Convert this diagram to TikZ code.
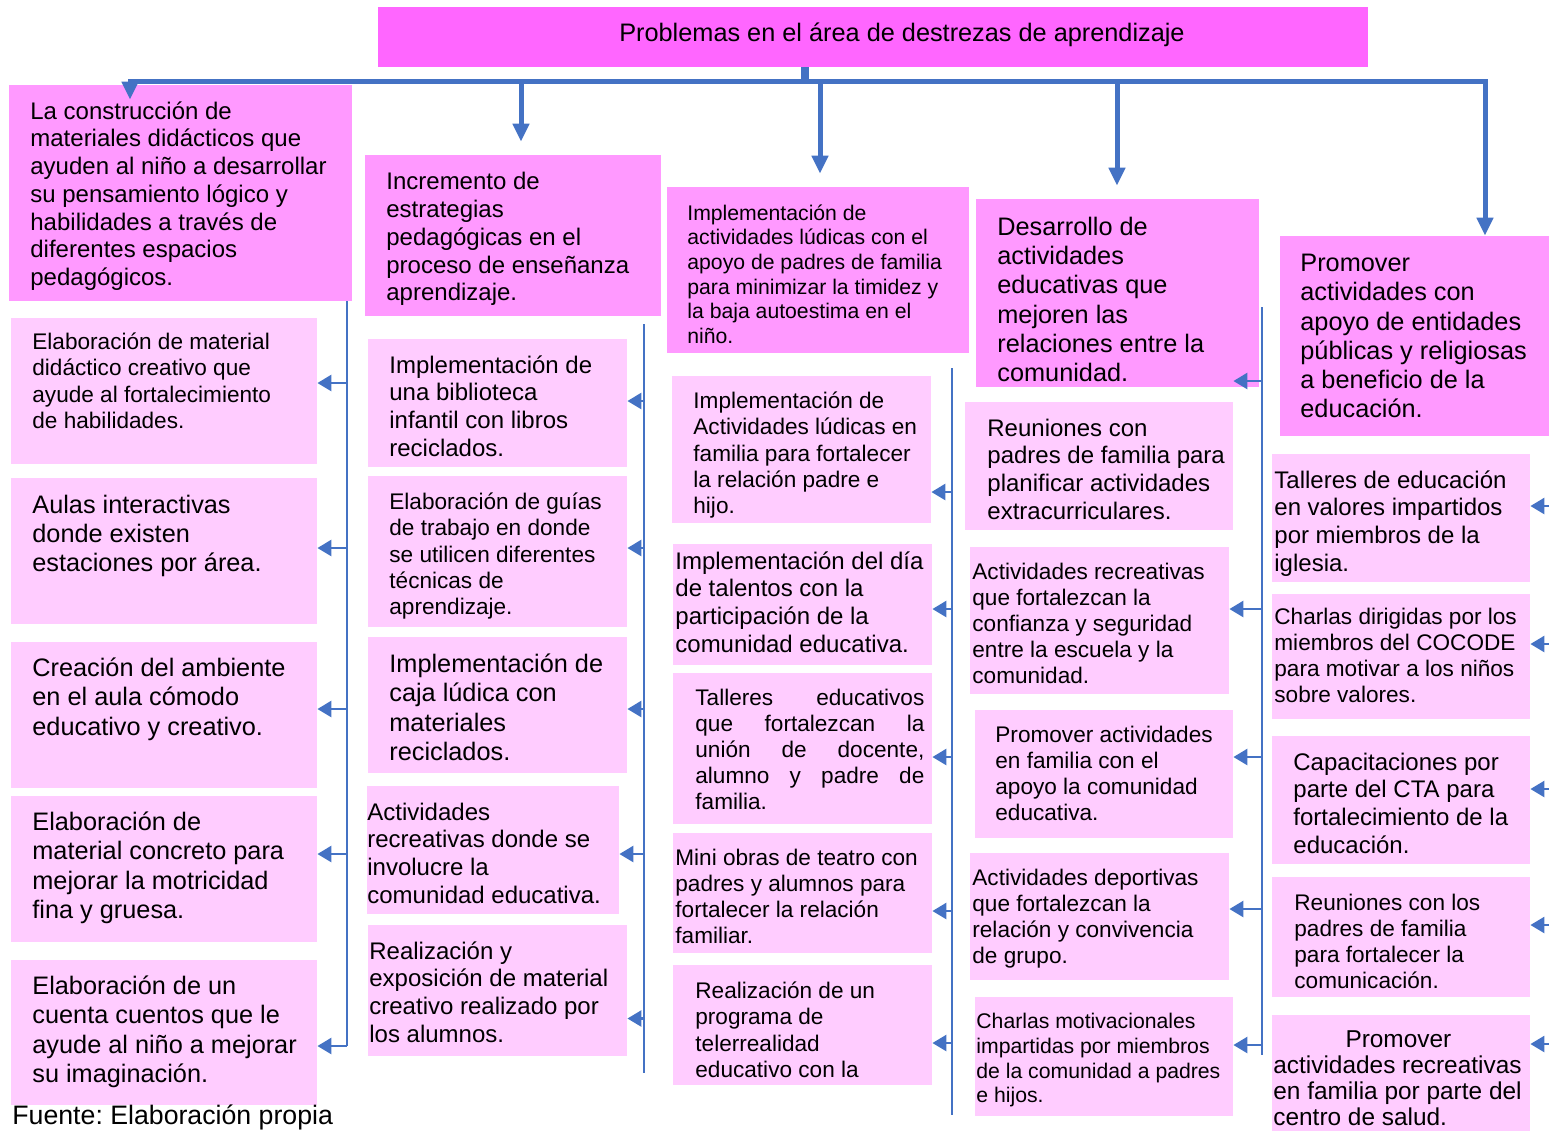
\documentclass[tikz,border=0pt]{standalone}
\usepackage{fontspec}
\setmainfont{Liberation Sans}
\usetikzlibrary{arrows.meta,fit}
\frenchspacing

\definecolor{titlepink}{RGB}{255,102,255}
\definecolor{headpink}{RGB}{255,153,255}
\definecolor{subpink}{RGB}{255,204,255}
\definecolor{lineblue}{RGB}{68,114,196}

\tikzset{
  titlebox/.style={fill=titlepink, inner sep=0pt},
  headbox/.style={fill=headpink, inner sep=0pt},
  subbox/.style={fill=subpink, inner sep=0pt},
  txt/.style={anchor=north west, inner sep=0pt, align=left, execute at begin node=\strut},
  xs/.style={txt, font=\fontsize{10.6}{12.3}\selectfont, yshift=3.9pt},
  sm/.style={txt, font=\fontsize{11.3}{13.05}\selectfont, yshift=4.1pt},
  md/.style={txt, font=\fontsize{12}{13.85}\selectfont, yshift=4.4pt},
  lg/.style={txt, font=\fontsize{12.65}{14.65}\selectfont, yshift=4.7pt},
  wd/.style={txt, font=\fontsize{12.2}{13}\selectfont, yshift=3.8pt},
  trunk/.style={draw=lineblue, line width=2.5pt},
  drop/.style={trunk, -{Triangle[width=8pt,length=9pt]}, shorten >=6.5pt},
  branch/.style={draw=lineblue, line width=1.3pt, -{Triangle[width=8pt,length=7pt]}},
  rail/.style={draw=lineblue, line width=1.3pt}
}

\begin{document}
\begin{tikzpicture}[x=0.5pt, y=-0.5pt]
    \useasboundingbox (0,0) rectangle (1549,1131);

    \node[titlebox, fit={(378,7) (1368,67)}] (title) {};
    \node[font=\fontsize{12.65}{14}\selectfont, inner sep=0pt] at (902,35) {Problemas en el área de destrezas de aprendizaje};

    % cabeceras
    \node[headbox, fit={(9,85) (352,301)}] (h1) {};
    \node[md] at (30,110) {La construcción de\\materiales didácticos que\\ayuden al niño a desarrollar\\su pensamiento lógico y\\habilidades a través de\\diferentes espacios\\pedagógicos.};
    \node[headbox, fit={(365,155) (661,316)}] (h2) {};
    \node[md] at (386,181) {Incremento de\\estrategias\\pedagógicas en el\\proceso de enseñanza\\aprendizaje.};
    \node[headbox, fit={(667,187) (969,353)}] (h3) {};
    \node[xs] at (687,212) {Implementación de\\actividades lúdicas con el\\apoyo de padres de familia\\para minimizar la timidez y\\la baja autoestima en el\\niño.};
    \node[headbox, fit={(976,199) (1259,387)}] (h4) {};
    \node[lg] at (997,226) {Desarrollo de\\actividades\\educativas que\\mejoren las\\relaciones entre la\\comunidad.};
    \node[headbox, fit={(1280,236) (1549,436)}] (h5) {};
    \node[lg] at (1300,263) {Promover\\actividades con\\apoyo de entidades\\públicas y religiosas\\a beneficio de la\\educación.};

    % columna 1
    \node[subbox, fit={(11,318) (317,464)}] (b11) {};
    \node[sm] at (32,341) {Elaboración de material\\didáctico creativo que\\ayude al fortalecimiento\\de habilidades.};
    \node[subbox, fit={(11,478) (317,624)}] (b12) {};
    \node[lg] at (32,504) {Aulas interactivas\\donde existen\\estaciones por área.};
    \node[subbox, fit={(11,642) (317,788)}] (b13) {};
    \node[lg] at (32,667) {Creación del ambiente\\en el aula cómodo\\educativo y creativo.};
    \node[subbox, fit={(11,796) (317,942)}] (b14) {};
    \node[lg] at (32,821) {Elaboración de\\material concreto para\\mejorar la motricidad\\fina y gruesa.};
    \node[subbox, fit={(11,960) (317,1105)}] (b15) {};
    \node[lg] at (32,985) {Elaboración de un\\cuenta cuentos que le\\ayude al niño a mejorar\\su imaginación.};

    % columna 2
    \node[subbox, fit={(368,339) (627,467)}] (b21) {};
    \node[md] at (389,364) {Implementación de\\una biblioteca\\infantil con libros\\reciclados.};
    \node[subbox, fit={(368,476) (627,627)}] (b22) {};
    \node[sm] at (389,501) {Elaboración de guías\\de trabajo en donde\\se utilicen diferentes\\técnicas de\\aprendizaje.};
    \node[subbox, fit={(368,637) (627,773)}] (b23) {};
    \node[lg] at (389,663) {Implementación de\\caja lúdica con\\materiales\\reciclados.};
    \node[subbox, fit={(367,786) (619,914)}] (b24) {};
    \node[md] at (367,811) {Actividades\\recreativas donde se\\involucre la\\comunidad educativa.};
    \node[subbox, fit={(368,925) (627,1056)}] (b25) {};
    \node[md] at (369,950) {Realización y\\exposición de material\\creativo realizado por\\los alumnos.};

    % columna 3
    \node[subbox, fit={(672,376) (931,523)}] (b31) {};
    \node[sm] at (693,400) {Implementación de\\Actividades lúdicas en\\familia para fortalecer\\la relación padre e\\hijo.};
    \node[subbox, fit={(673,544) (932,665)}] (b32) {};
    \node[md] at (675,560) {Implementación del día\\de talentos con la\\participación de la\\comunidad educativa.};
    \node[subbox, fit={(673,673) (932,824)}] (b33) {};
    \node[sm] at (695,697) {\makebox[114.5pt][s]{Talleres educativos}\\\makebox[114.5pt][s]{que fortalezcan la}\\\makebox[114.5pt][s]{unión de docente,}\\\makebox[114.5pt][s]{alumno y padre de}\\familia.};
    \node[subbox, fit={(673,833) (932,953)}] (b34) {};
    \node[sm] at (675,857) {Mini obras de teatro con\\padres y alumnos para\\fortalecer la relación\\familiar.};
    \node[subbox, fit={(673,965) (932,1085)}] (b35) {};
    \node[sm] at (695,990) {Realización de un\\programa de\\telerrealidad\\educativo con la};

    % columna 4
    \node[subbox, fit={(965,402) (1233,530)}] (b41) {};
    \node[md] at (987,427) {Reuniones con\\padres de familia para\\planificar actividades\\extracurriculares.};
    \node[subbox, fit={(970,547) (1229,694)}] (b42) {};
    \node[sm] at (972,571) {Actividades recreativas\\que fortalezcan la\\confianza y seguridad\\entre la escuela y la\\comunidad.};
    \node[subbox, fit={(975,710) (1233,838)}] (b43) {};
    \node[sm] at (995,734) {Promover actividades\\en familia con el\\apoyo la comunidad\\educativa.};
    \node[subbox, fit={(970,853) (1229,980)}] (b44) {};
    \node[sm] at (972,877) {Actividades deportivas\\que fortalezcan la\\relación y convivencia\\de grupo.};
    \node[subbox, fit={(975,997) (1233,1116)}] (b45) {};
    \node[xs] at (976,1021) {Charlas motivacionales\\impartidas por miembros\\de la comunidad a padres\\e hijos.};

    % columna 5
    \node[subbox, fit={(1272,454) (1530,582)}] (b51) {};
    \node[md] at (1274,479) {Talleres de educación\\en valores impartidos\\por miembros de la\\iglesia.};
    \node[subbox, fit={(1272,594) (1530,719)}] (b52) {};
    \node[sm] at (1274,616) {Charlas dirigidas por los\\miembros del COCODE\\para motivar a los niños\\sobre valores.};
    \node[subbox, fit={(1272,736) (1530,864)}] (b53) {};
    \node[md] at (1293,761) {Capacitaciones por\\parte del CTA para\\fortalecimiento de la\\educación.};
    \node[subbox, fit={(1272,877) (1530,997)}] (b54) {};
    \node[sm] at (1294,902) {Reuniones con los\\padres de familia\\para fortalecer la\\comunicación.};
    \node[subbox, fit={(1272,1015) (1530,1131)}] (b55) {};
    \node[wd] at (1273,1038) {\makebox[125pt][c]{Promover}\\actividades recreativas\\en familia por parte del\\centro de salud.};

    \node[anchor=west, inner sep=0pt, font=\fontsize{13.35}{15}\selectfont] at (12,1117) {Fuente: Elaboración propia};

    % tronco principal
    \coordinate (hub) at (805,81);
    \coordinate (d1) at (130,81);
    \coordinate (d2) at (521,81);
    \coordinate (d3) at (820,81);
    \coordinate (d4) at (1117,81);
    \coordinate (d5) at (1485,81);
    \draw[trunk, line width=4pt] ([xshift=-34pt]title.south) -- (hub);
    \draw[trunk, {Triangle[width=8pt,length=9pt]}-{Triangle[width=8pt,length=9pt]}, shorten <=-7.5pt] (d1 |- h1.north) -- (d1) -- (d5) -- (d5 |- h5.north);
    \foreach \d/\h in {d2/h2, d3/h3, d4/h4}{
        \draw[drop] (\d) -- (\d |- \h.north);
    }

    % ramas
    \coordinate (v1a) at (347,301);
    \coordinate (v1b) at (347,1046);
    \coordinate (v2a) at (644,324);
    \coordinate (v2b) at (644,1073);
    \coordinate (v3a) at (952,368);
    \coordinate (v3b) at (952,1115);
    \coordinate (v4a) at (1262,307);
    \coordinate (v4b) at (1262,1055);
    \coordinate (redge) at (1549,0);
    \draw[rail] (v1a) -- (v1b);
    \draw[rail] (v2a) -- (v2b);
    \draw[rail] (v3a) -- (v3b);
    \draw[rail] (v4a) -- (v4b);
    \foreach \b/\s in {b11/4pt, b12/1.5pt, b13/3pt, b14/7.5pt, b15/-6.75pt}{
        \draw[branch] ([yshift=\s]\b.east -| v1a) -- ([yshift=\s]\b.east);
    }
    \foreach \b/\s in {b21/1pt, b22/1.75pt, b23/-2pt, b24/-2pt, b25/-14pt}{
        \draw[branch] ([yshift=\s]\b.east -| v2a) -- ([yshift=\s]\b.east);
    }
    \foreach \b/\s in {b31/-21.25pt, b32/-2.25pt, b33/-4.25pt, b34/-9pt, b35/-9pt}{
        \draw[branch] ([yshift=\s]\b.east -| v3a) -- ([yshift=\s]\b.east);
    }
    \foreach \b/\s in {b41/42.5pt, b42/5.75pt, b43/8.5pt, b44/3.75pt, b45/5.75pt}{
        \draw[branch] ([yshift=\s]\b.east -| v4a) -- ([yshift=\s]\b.east);
    }
    \foreach \b/\s in {b51/6pt, b52/6.25pt, b53/5.5pt, b54/6pt, b55/14.5pt}{
        \draw[branch] ([yshift=\s]\b.east -| redge) -- ([yshift=\s]\b.east);
    }
\end{tikzpicture}
\end{document}
